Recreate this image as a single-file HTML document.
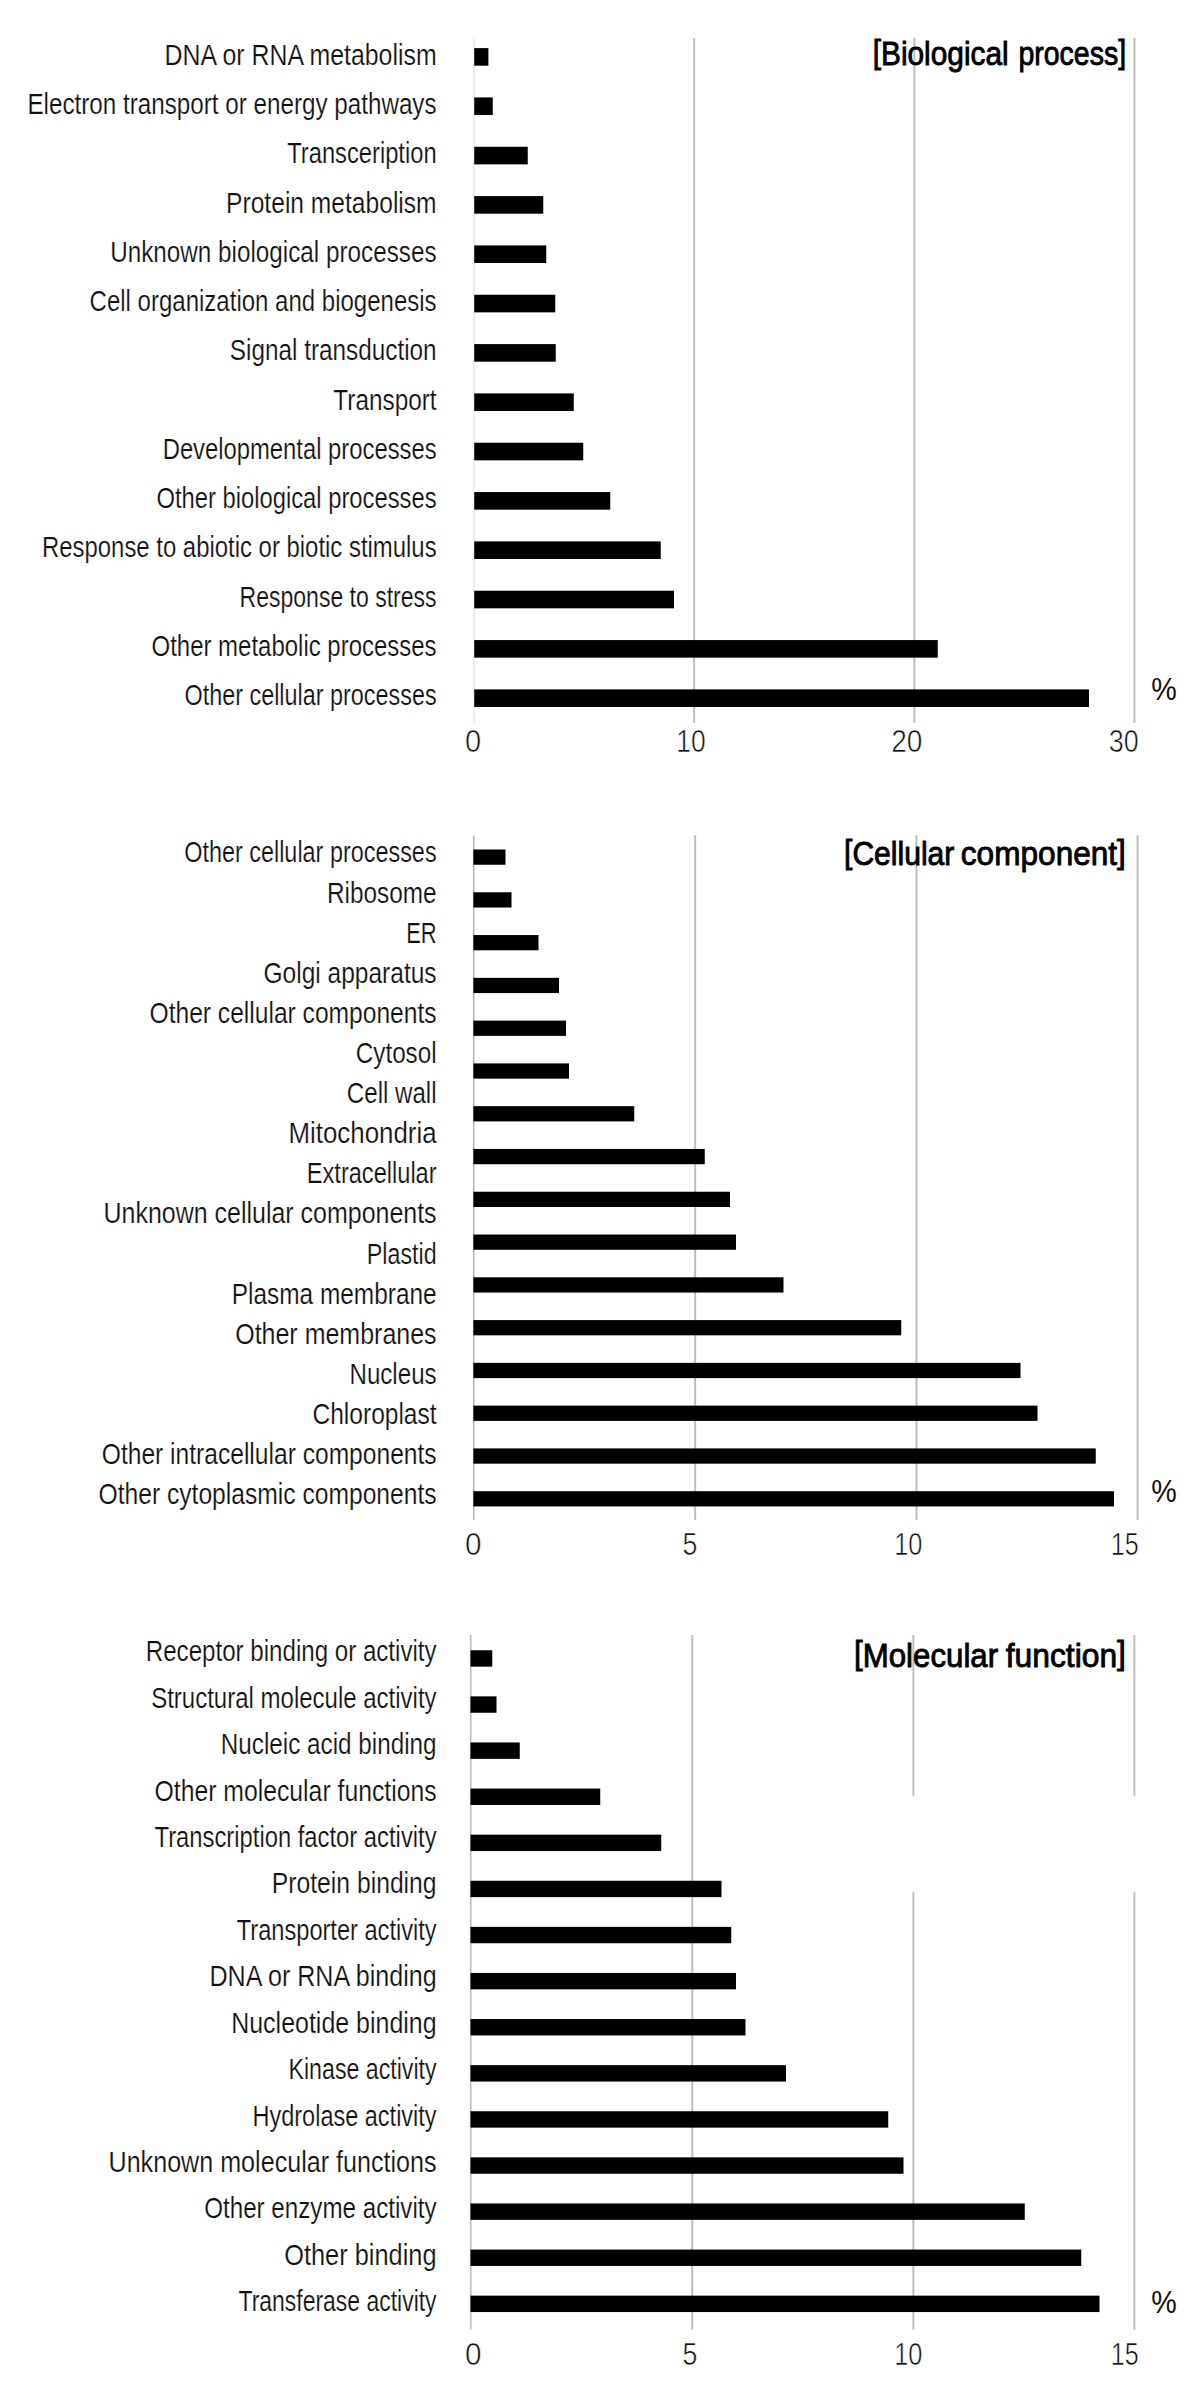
<!DOCTYPE html>
<html lang="en"><head><meta charset="utf-8"><title>GO classification</title>
<style>
html,body{margin:0;padding:0;background:#fff}
svg{display:block}
text{font-family:"Liberation Sans",sans-serif;fill:#111}
.l{font-size:30px;stroke:#fff;stroke-width:.2px}
.t{font-size:33.8px;fill:#000;stroke:#000;stroke-width:.9px}
.n{font-size:32px;stroke:#fff;stroke-width:.6px}
.p{font-size:31.5px}
</style></head><body>
<svg width="1200" height="2395" viewBox="0 0 1200 2395">
<rect width="1200" height="2395" fill="#fff"/>
<g>
<rect x="473.40" y="37.80" width="1.20" height="685.00" fill="#e4e4e4"/>
<rect x="693.20" y="37.80" width="1.95" height="685.00" fill="#bcbcbc"/>
<rect x="913.40" y="37.80" width="1.95" height="685.00" fill="#bcbcbc"/>
<rect x="1133.50" y="37.80" width="1.95" height="685.00" fill="#bcbcbc"/>
<rect x="474.25" y="48.10" width="14.15" height="17.60" fill="#000"/>
<rect x="474.25" y="97.43" width="18.50" height="17.60" fill="#000"/>
<rect x="474.25" y="146.76" width="53.50" height="17.60" fill="#000"/>
<rect x="474.25" y="196.09" width="69.00" height="17.60" fill="#000"/>
<rect x="474.25" y="245.42" width="72.00" height="17.60" fill="#000"/>
<rect x="474.25" y="294.75" width="81.00" height="17.60" fill="#000"/>
<rect x="474.25" y="344.08" width="81.50" height="17.60" fill="#000"/>
<rect x="474.25" y="393.41" width="99.50" height="17.60" fill="#000"/>
<rect x="474.25" y="442.74" width="109.00" height="17.60" fill="#000"/>
<rect x="474.25" y="492.07" width="136.00" height="17.60" fill="#000"/>
<rect x="474.25" y="541.40" width="186.50" height="17.60" fill="#000"/>
<rect x="474.25" y="590.73" width="199.75" height="17.60" fill="#000"/>
<rect x="474.25" y="640.06" width="463.50" height="17.60" fill="#000"/>
<rect x="474.25" y="689.39" width="614.75" height="17.60" fill="#000"/>
<text class="l" x="164.50" y="64.90" textLength="272.10" lengthAdjust="spacingAndGlyphs">DNA or RNA metabolism</text>
<text class="l" x="27.40" y="114.15" textLength="409.20" lengthAdjust="spacingAndGlyphs">Electron transport or energy pathways</text>
<text class="l" x="287.20" y="163.40" textLength="149.40" lengthAdjust="spacingAndGlyphs">Transceription</text>
<text class="l" x="226.10" y="212.65" textLength="210.50" lengthAdjust="spacingAndGlyphs">Protein metabolism</text>
<text class="l" x="110.20" y="261.90" textLength="326.40" lengthAdjust="spacingAndGlyphs">Unknown biological processes</text>
<text class="l" x="89.60" y="311.15" textLength="347.00" lengthAdjust="spacingAndGlyphs">Cell organization and biogenesis</text>
<text class="l" x="229.80" y="360.40" textLength="206.80" lengthAdjust="spacingAndGlyphs">Signal transduction</text>
<text class="l" x="333.30" y="409.65" textLength="103.30" lengthAdjust="spacingAndGlyphs">Transport</text>
<text class="l" x="162.70" y="458.90" textLength="273.90" lengthAdjust="spacingAndGlyphs">Developmental processes</text>
<text class="l" x="156.40" y="508.15" textLength="280.20" lengthAdjust="spacingAndGlyphs">Other biological processes</text>
<text class="l" x="42.00" y="557.40" textLength="394.60" lengthAdjust="spacingAndGlyphs">Response to abiotic or biotic stimulus</text>
<text class="l" x="239.60" y="606.65" textLength="197.00" lengthAdjust="spacingAndGlyphs">Response to stress</text>
<text class="l" x="151.50" y="655.90" textLength="285.10" lengthAdjust="spacingAndGlyphs">Other metabolic processes</text>
<text class="l" x="184.50" y="705.15" textLength="252.10" lengthAdjust="spacingAndGlyphs">Other cellular processes</text>
<text class="t" x="872.80" y="65.00" textLength="135.80" lengthAdjust="spacingAndGlyphs"><tspan dy="-2.4">[</tspan><tspan dy="2.4">Biological</tspan></text>
<text class="t" x="1018.40" y="65.00" textLength="107.70" lengthAdjust="spacingAndGlyphs">process<tspan dy="-2.4">]</tspan></text>
<text class="n" x="465.05" y="751.60" textLength="16.15" lengthAdjust="spacingAndGlyphs">0</text>
<text class="n" x="676.30" y="751.60" textLength="29.40" lengthAdjust="spacingAndGlyphs">10</text>
<text class="n" x="891.30" y="751.60" textLength="31.15" lengthAdjust="spacingAndGlyphs">20</text>
<text class="n" x="1108.80" y="751.60" textLength="29.90" lengthAdjust="spacingAndGlyphs">30</text>
<text class="p" x="1151.20" y="699.90" textLength="25.50" lengthAdjust="spacingAndGlyphs">%</text>
</g>
<g>
<rect x="472.85" y="835.40" width="1.75" height="684.60" fill="#bcbcbc"/>
<rect x="694.20" y="835.40" width="1.95" height="684.60" fill="#bcbcbc"/>
<rect x="915.50" y="835.40" width="1.95" height="684.60" fill="#bcbcbc"/>
<rect x="1136.60" y="835.40" width="1.95" height="684.60" fill="#bcbcbc"/>
<rect x="473.40" y="849.50" width="32.10" height="15.25" fill="#000"/>
<rect x="473.40" y="892.28" width="38.10" height="15.25" fill="#000"/>
<rect x="473.40" y="935.06" width="65.10" height="15.25" fill="#000"/>
<rect x="473.40" y="977.84" width="85.60" height="15.25" fill="#000"/>
<rect x="473.40" y="1020.62" width="92.60" height="15.25" fill="#000"/>
<rect x="473.40" y="1063.40" width="95.60" height="15.25" fill="#000"/>
<rect x="473.40" y="1106.18" width="160.85" height="15.25" fill="#000"/>
<rect x="473.40" y="1148.96" width="231.35" height="15.25" fill="#000"/>
<rect x="473.40" y="1191.74" width="256.60" height="15.25" fill="#000"/>
<rect x="473.40" y="1234.52" width="262.60" height="15.25" fill="#000"/>
<rect x="473.40" y="1277.30" width="310.10" height="15.25" fill="#000"/>
<rect x="473.40" y="1320.08" width="427.85" height="15.25" fill="#000"/>
<rect x="473.40" y="1362.86" width="547.10" height="15.25" fill="#000"/>
<rect x="473.40" y="1405.64" width="564.10" height="15.25" fill="#000"/>
<rect x="473.40" y="1448.42" width="622.35" height="15.25" fill="#000"/>
<rect x="473.40" y="1491.20" width="640.60" height="15.25" fill="#000"/>
<text class="l" x="184.20" y="862.40" textLength="252.40" lengthAdjust="spacingAndGlyphs">Other cellular processes</text>
<text class="l" x="327.00" y="902.51" textLength="109.60" lengthAdjust="spacingAndGlyphs">Ribosome</text>
<text class="l" x="406.20" y="942.62" textLength="30.40" lengthAdjust="spacingAndGlyphs">ER</text>
<text class="l" x="263.50" y="982.73" textLength="173.10" lengthAdjust="spacingAndGlyphs">Golgi apparatus</text>
<text class="l" x="149.50" y="1022.84" textLength="287.10" lengthAdjust="spacingAndGlyphs">Other cellular components</text>
<text class="l" x="355.80" y="1062.95" textLength="80.80" lengthAdjust="spacingAndGlyphs">Cytosol</text>
<text class="l" x="346.80" y="1103.06" textLength="89.80" lengthAdjust="spacingAndGlyphs">Cell wall</text>
<text class="l" x="288.50" y="1143.17" textLength="148.10" lengthAdjust="spacingAndGlyphs">Mitochondria</text>
<text class="l" x="306.80" y="1183.28" textLength="129.80" lengthAdjust="spacingAndGlyphs">Extracellular</text>
<text class="l" x="103.50" y="1223.39" textLength="333.10" lengthAdjust="spacingAndGlyphs">Unknown cellular components</text>
<text class="l" x="366.80" y="1263.50" textLength="69.80" lengthAdjust="spacingAndGlyphs">Plastid</text>
<text class="l" x="231.80" y="1303.61" textLength="204.80" lengthAdjust="spacingAndGlyphs">Plasma membrane</text>
<text class="l" x="235.20" y="1343.72" textLength="201.40" lengthAdjust="spacingAndGlyphs">Other membranes</text>
<text class="l" x="349.50" y="1383.83" textLength="87.10" lengthAdjust="spacingAndGlyphs">Nucleus</text>
<text class="l" x="312.50" y="1423.94" textLength="124.10" lengthAdjust="spacingAndGlyphs">Chloroplast</text>
<text class="l" x="101.80" y="1464.05" textLength="334.80" lengthAdjust="spacingAndGlyphs">Other intracellular components</text>
<text class="l" x="98.50" y="1504.16" textLength="338.10" lengthAdjust="spacingAndGlyphs">Other cytoplasmic components</text>
<text class="t" x="844.05" y="865.20" textLength="110.30" lengthAdjust="spacingAndGlyphs"><tspan dy="-2.4">[</tspan><tspan dy="2.4">Cellular</tspan></text>
<text class="t" x="960.80" y="865.20" textLength="165.10" lengthAdjust="spacingAndGlyphs">component<tspan dy="-2.4">]</tspan></text>
<text class="n" x="465.05" y="1555.00" textLength="16.55" lengthAdjust="spacingAndGlyphs">0</text>
<text class="n" x="682.55" y="1555.00" textLength="14.90" lengthAdjust="spacingAndGlyphs">5</text>
<text class="n" x="894.20" y="1555.00" textLength="28.25" lengthAdjust="spacingAndGlyphs">10</text>
<text class="n" x="1110.80" y="1555.00" textLength="27.90" lengthAdjust="spacingAndGlyphs">15</text>
<text class="p" x="1151.20" y="1501.90" textLength="25.50" lengthAdjust="spacingAndGlyphs">%</text>
</g>
<g>
<rect x="469.85" y="1635.00" width="1.70" height="694.50" fill="#bcbcbc"/>
<rect x="691.30" y="1635.00" width="1.95" height="694.50" fill="#bcbcbc"/>
<rect x="912.40" y="1635.00" width="1.95" height="160.80" fill="#bcbcbc"/>
<rect x="912.40" y="1892.20" width="1.95" height="437.30" fill="#bcbcbc"/>
<rect x="1133.40" y="1635.00" width="1.95" height="160.80" fill="#bcbcbc"/>
<rect x="1133.40" y="1892.20" width="1.95" height="437.30" fill="#bcbcbc"/>
<rect x="470.50" y="1650.25" width="21.75" height="16.40" fill="#000"/>
<rect x="470.50" y="1696.35" width="26.00" height="16.40" fill="#000"/>
<rect x="470.50" y="1742.45" width="49.25" height="16.40" fill="#000"/>
<rect x="470.50" y="1788.55" width="129.75" height="16.40" fill="#000"/>
<rect x="470.50" y="1834.65" width="190.75" height="16.40" fill="#000"/>
<rect x="470.50" y="1880.75" width="251.00" height="16.40" fill="#000"/>
<rect x="470.50" y="1926.85" width="260.75" height="16.40" fill="#000"/>
<rect x="470.50" y="1972.95" width="265.50" height="16.40" fill="#000"/>
<rect x="470.50" y="2019.05" width="275.00" height="16.40" fill="#000"/>
<rect x="470.50" y="2065.15" width="315.50" height="16.40" fill="#000"/>
<rect x="470.50" y="2111.25" width="417.75" height="16.40" fill="#000"/>
<rect x="470.50" y="2157.35" width="433.00" height="16.40" fill="#000"/>
<rect x="470.50" y="2203.45" width="554.25" height="16.40" fill="#000"/>
<rect x="470.50" y="2249.55" width="610.75" height="16.40" fill="#000"/>
<rect x="470.50" y="2295.65" width="629.00" height="16.40" fill="#000"/>
<text class="l" x="145.80" y="1661.30" textLength="290.80" lengthAdjust="spacingAndGlyphs">Receptor binding or activity</text>
<text class="l" x="151.20" y="1707.73" textLength="285.40" lengthAdjust="spacingAndGlyphs">Structural molecule activity</text>
<text class="l" x="220.80" y="1754.16" textLength="215.80" lengthAdjust="spacingAndGlyphs">Nucleic acid binding</text>
<text class="l" x="154.50" y="1800.59" textLength="282.10" lengthAdjust="spacingAndGlyphs">Other molecular functions</text>
<text class="l" x="154.50" y="1847.02" textLength="282.10" lengthAdjust="spacingAndGlyphs">Transcription factor activity</text>
<text class="l" x="271.80" y="1893.45" textLength="164.80" lengthAdjust="spacingAndGlyphs">Protein binding</text>
<text class="l" x="236.80" y="1939.88" textLength="199.80" lengthAdjust="spacingAndGlyphs">Transporter activity</text>
<text class="l" x="209.50" y="1986.31" textLength="227.10" lengthAdjust="spacingAndGlyphs">DNA or RNA binding</text>
<text class="l" x="231.20" y="2032.74" textLength="205.40" lengthAdjust="spacingAndGlyphs">Nucleotide binding</text>
<text class="l" x="288.50" y="2079.17" textLength="148.10" lengthAdjust="spacingAndGlyphs">Kinase activity</text>
<text class="l" x="252.50" y="2125.60" textLength="184.10" lengthAdjust="spacingAndGlyphs">Hydrolase activity</text>
<text class="l" x="108.50" y="2172.03" textLength="328.10" lengthAdjust="spacingAndGlyphs">Unknown molecular functions</text>
<text class="l" x="204.20" y="2218.46" textLength="232.40" lengthAdjust="spacingAndGlyphs">Other enzyme activity</text>
<text class="l" x="284.20" y="2264.89" textLength="152.40" lengthAdjust="spacingAndGlyphs">Other binding</text>
<text class="l" x="238.50" y="2311.32" textLength="198.10" lengthAdjust="spacingAndGlyphs">Transferase activity</text>
<text class="t" x="854.05" y="1666.50" textLength="144.05" lengthAdjust="spacingAndGlyphs"><tspan dy="-2.4">[</tspan><tspan dy="2.4">Molecular</tspan></text>
<text class="t" x="1005.80" y="1666.50" textLength="120.10" lengthAdjust="spacingAndGlyphs">function<tspan dy="-2.4">]</tspan></text>
<text class="n" x="465.05" y="2365.40" textLength="16.55" lengthAdjust="spacingAndGlyphs">0</text>
<text class="n" x="682.55" y="2365.40" textLength="14.90" lengthAdjust="spacingAndGlyphs">5</text>
<text class="n" x="894.20" y="2365.40" textLength="28.25" lengthAdjust="spacingAndGlyphs">10</text>
<text class="n" x="1110.80" y="2365.40" textLength="27.90" lengthAdjust="spacingAndGlyphs">15</text>
<text class="p" x="1151.20" y="2312.70" textLength="25.50" lengthAdjust="spacingAndGlyphs">%</text>
</g>
</svg>
</body></html>
